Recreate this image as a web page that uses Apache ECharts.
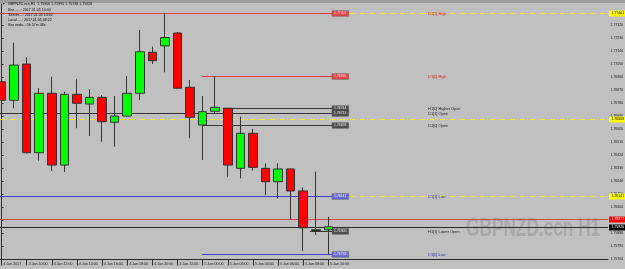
<!DOCTYPE html>
<html>
<head>
<meta charset="utf-8">
<script src="https://cdn.jsdelivr.net/npm/echarts@6/dist/echarts.min.js"></script>
<style>
html,body{margin:0;padding:0;background:#c0c0c0;}
#c{width:625px;height:269px;}
</style>
</head>
<body>
<div id="c"></div>
<script>
// ---- data ----
const barTimes = ['4 Jan 08:00','4 Jan 09:00','4 Jan 10:00','4 Jan 11:00','4 Jan 12:00','4 Jan 13:00','4 Jan 14:00','4 Jan 15:00','4 Jan 16:00','4 Jan 17:00','4 Jan 18:00','4 Jan 19:00','4 Jan 20:00','4 Jan 21:00','4 Jan 22:00','4 Jan 23:00','5 Jan 00:00','5 Jan 01:00','5 Jan 02:00','5 Jan 03:00','5 Jan 04:00','5 Jan 05:00','5 Jan 06:00','5 Jan 07:00','5 Jan 08:00','5 Jan 09:00','5 Jan 10:00'];
const opens  = [1.76927,1.76799,1.77049,1.76437,1.76847,1.76352,1.76840,1.76773,1.76819,1.76647,1.76690,1.76847,1.77130,1.77174,1.77263,1.76889,1.76628,1.76723,1.76744,1.76329,1.76571,1.76329,1.76237,1.76325,1.76173,1.75900,1.75906];
const closes = [1.76799,1.77042,1.76437,1.76847,1.76352,1.76840,1.76778,1.76819,1.76651,1.76690,1.76847,1.77134,1.77072,1.77232,1.76882,1.76681,1.76720,1.76750,1.76352,1.76571,1.76336,1.76237,1.76325,1.76173,1.75919,1.75906,1.75926];
const lows   = [1.76773,1.76744,1.76432,1.76382,1.76311,1.76304,1.76606,1.76552,1.76513,1.76479,1.76687,1.76801,1.77049,1.76992,1.76880,1.76537,1.76387,1.76711,1.76271,1.76260,1.76313,1.76145,1.76122,1.75977,1.75759,1.75869,1.75738];
const highs  = [1.77036,1.77196,1.77096,1.76882,1.76962,1.76858,1.76944,1.76875,1.76835,1.76828,1.76966,1.77284,1.77169,1.77401,1.77270,1.76939,1.76828,1.76966,1.76746,1.76686,1.76601,1.76364,1.76364,1.76328,1.76198,1.76306,1.75995];

const xTickBars   = [0,2,4,6,8,10,12,14,16,18,20,22,24,26];
const xTickLabels = ['4 Jan 2017','4 Jan 10:00','4 Jan 12:00','4 Jan 14:00','4 Jan 16:00','4 Jan 18:00','4 Jan 20:00','4 Jan 22:00','5 Jan 00:00','5 Jan 02:00','5 Jan 04:00','5 Jan 06:00','5 Jan 08:00','5 Jan 10:00'];
const yTickValues = [1.75700,1.75790,1.75880,1.75970,1.76060,1.76150,1.76240,1.76330,1.76420,1.76510,1.76600,1.76690,1.76780,1.76870,1.76960,1.77050,1.77140,1.77230,1.77320];

const levelNames  = ['D1[1] High','D1[0] High','H1[0] Higher Open','D1[1] Open','D1[0] Open','D1[1] Low','H1[1] Lower Open','D1[0] Low'];
const levelPrices = [1.77401,1.76966,1.76744,1.76713,1.76628,1.76141,1.75900,1.75738];
const levelStartBars = [-1,15.95,17.6,-1,15.95,-1,24.55,15.95];
const levelKinds  = ['high','high','open','open','open','low','open','low'];

const priceLineValues = [1.77401,1.76668,1.76141,1.75977,1.75926];
const priceLineKinds  = ['yellow','yellow','yellow','ask','bid'];

const infoLines = ['Bar.......: 2017.01.05 10:00','Server....: 2017.01.05 10:02','Local.....: 2017.01.05 08:22','Bar ends..: 0h 57m 48s'];
const symbolName = 'GBPNZD.ecn,H1';
const watermark = 'GBPNZD.ecn H1';

// ---- styles ----
const FONT = '"Liberation Sans", Arial, sans-serif';
const levelStyle = {
  high: {line:'#e83a3a', box:'#e04848', boxText:'#ffd8d8', label:'#e02020'},
  open: {line:'#333333', box:'#505050', boxText:'#e8e8e8', label:'#222222'},
  low:  {line:'#3c3cd8', box:'#6a6ad8', boxText:'#ffffff', label:'#2a2ac8'}
};
const priceLineStyle = {
  yellow: {line:'#f0f000', dash:[5,2,1,2], box:'#ffff00', boxText:'#000'},
  ask:    {line:'#d04848', dash:null, box:'#ff0000', boxText:'#fff'},
  bid:    {line:'#2a2a2a', dash:null, box:'#000000', boxText:'#fff'}
};
const LEVEL_END_BAR = 26.3;

const candleData = opens.map((o,i)=>[i, o, closes[i], lows[i], highs[i]]);
const levelData = levelPrices.map((p,i)=>[levelStartBars[i], LEVEL_END_BAR, p]);
const priceLineData = priceLineValues.map(p=>[-0.12, 48.25, p]);

const chart = echarts.init(document.getElementById('c'), null, {renderer:'canvas'});

const last = opens.length-1;
const title = symbolName + '  ' + [opens[last],highs[last],lows[last],closes[last]].map(v=>v.toFixed(5)).join(' ');

const graphics = [
  {type:'rect', shape:{x:0,y:0,width:625,height:3}, style:{fill:'#9c9c9c'}, z:1},
  {type:'text', x:466, y:217, scaleX:0.69, z:0, silent:true,
   style:{text:watermark, font:'bold 25px '+FONT, fill:'#a8a8a8', align:'left', verticalAlign:'top'}},
  {type:'text', x:2, y:2.4, z:10, style:{text:'▼', font:'3.5px '+FONT, fill:'#000', verticalAlign:'top'}},
  {type:'text', x:8, y:2.4, z:10, style:{text:title, font:'3.6px '+FONT, fill:'#000', verticalAlign:'top'}}
];
infoLines.forEach((t,i)=>{
  graphics.push({type:'text', x:8.3, y:7.8+i*5.1, z:10, style:{text:t, font:'3.6px '+FONT, fill:'#000', verticalAlign:'top'}});
});

const option = {
  backgroundColor:'#c0c0c0',
  animation:false,
  grid:{left:0, right:17, top:4, bottom:9.5, containLabel:false, outerBoundsMode:'none'},
  xAxis:{
    type:'value', min:-0.12, max:48.25,
    splitLine:{show:false},
    axisLine:{show:true, onZero:false, lineStyle:{color:'#2b2b2b', width:1}},
    axisTick:{show:true, customValues:xTickBars, length:6, lineStyle:{color:'#2b2b2b'}},
    axisLabel:{show:true, customValues:xTickBars, fontSize:3.6, fontFamily:FONT, color:'#111', align:'left', margin:2.5, padding:[0,0,0,2],
      formatter:(v)=>{const k=xTickBars.indexOf(Math.round(v)); return k>=0?xTickLabels[k]:'';}}
  },
  yAxis:{
    type:'value', position:'right', min:1.757, max:1.774634,
    splitLine:{show:false},
    axisLine:{show:true, lineStyle:{color:'#2b2b2b', width:1}},
    axisTick:{show:true, customValues:yTickValues, length:2, lineStyle:{color:'#2b2b2b'}},
    axisLabel:{show:true, customValues:yTickValues, fontSize:3.5, fontFamily:FONT, color:'#111', margin:2.5,
      formatter:(v)=>Number(v).toFixed(5)}
  },
  graphic:graphics,
  series:[
    {
      type:'custom', name:'priceLines', z:1, clip:false,
      encode:{x:[0,1], y:2},
      data:priceLineData,
      renderItem:(params, api)=>{
        const i = params.dataIndex;
        const st = priceLineStyle[priceLineKinds[i]];
        const p = api.value(2);
        const a = api.coord([api.value(0), p]);
        const b = api.coord([api.value(1), p]);
        const y = Math.round(a[1]) + 0.5;
        return {type:'group', children:[
          {type:'line', shape:{x1:0, y1:y, x2:b[0], y2:y}, style:{stroke:st.line, lineWidth:1, lineDash:st.dash}},
          {type:'rect', shape:{x:b[0]+1, y:y-3, width:16, height:6}, style:{fill:st.box}},
          {type:'text', x:b[0]+3.5, y:y, style:{text:p.toFixed(5), font:'3.5px '+FONT, fill:st.boxText, verticalAlign:'middle'}}
        ]};
      }
    },
    {
      type:'custom', name:'levels', z:2, clip:false,
      encode:{x:[0,1], y:2},
      data:levelData,
      renderItem:(params, api)=>{
        const i = params.dataIndex;
        const st = levelStyle[levelKinds[i]];
        const p = api.value(2);
        const a = api.coord([api.value(0), p]);
        const b = api.coord([api.value(1), p]);
        const y = Math.round(a[1]) + 0.5;
        const x0 = Math.max(a[0], 0);
        return {type:'group', children:[
          {type:'line', shape:{x1:x0, y1:y, x2:b[0], y2:y}, style:{stroke:st.line, lineWidth:1}},
          {type:'rect', shape:{x:b[0], y:y-2.8, width:16.5, height:5.6}, style:{fill:st.box, stroke:'#444', lineWidth:0.4}},
          {type:'text', x:b[0]+2, y:y, style:{text:p.toFixed(5), font:'3.4px '+FONT, fill:st.boxText, verticalAlign:'middle'}},
          {type:'text', x:b[0]+96, y:y, style:{text:levelNames[i], font:'3.9px '+FONT, fill:st.label, verticalAlign:'middle'}}
        ]};
      }
    },
    {
      type:'candlestick', name:'GBPNZD', z:5,
      encode:{x:0, y:[1,2,3,4]},
      barWidth:9,
      data:candleData,
      itemStyle:{color:'#00ff00', color0:'#ff0000', borderColor:'#333333', borderColor0:'#333333', borderWidth:1}
    }
  ]
};
chart.setOption(option);
</script>
</body>
</html>
